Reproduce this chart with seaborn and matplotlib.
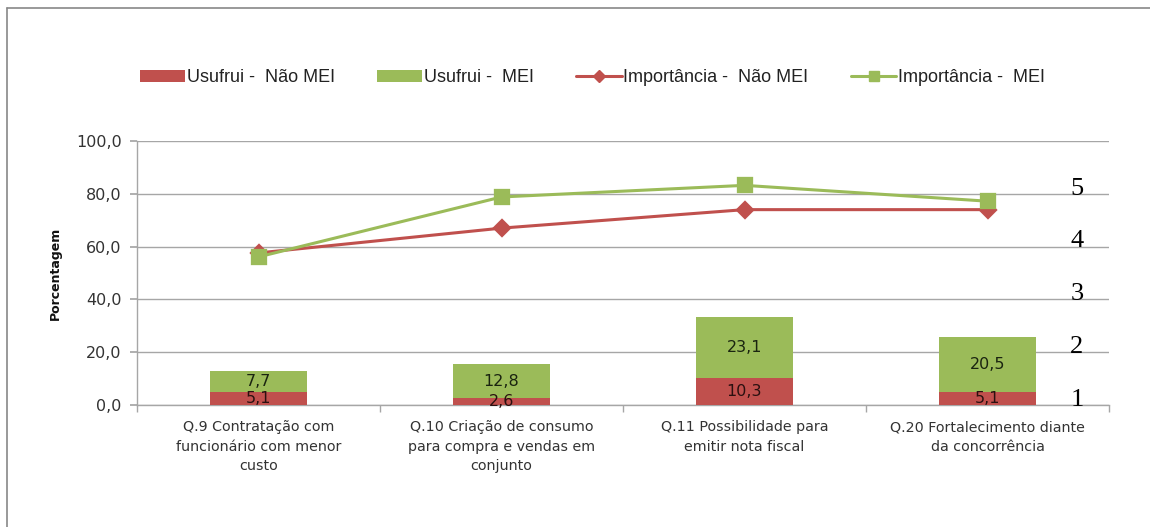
import matplotlib
matplotlib.use("Agg")
import matplotlib.pyplot as plt
import seaborn as sns
import numpy as np
import pandas as pd
from matplotlib.patches import Patch
from matplotlib.lines import Line2D

categories = [
    "Q.9 Contratação com\nfuncionário com menor\ncusto",
    "Q.10 Criação de consumo\npara compra e vendas em\nconjunto",
    "Q.11 Possibilidade para\nemitir nota fiscal",
    "Q.20 Fortalecimento diante\nda concorrência",
]
usufrui_nao_mei = [5.1, 2.6, 10.3, 5.1]
usufrui_mei = [7.7, 12.8, 23.1, 20.5]
importancia_nao_mei = [57.6, 67.0, 74.0, 74.0]
importancia_mei = [56.1, 78.8, 83.2, 77.2]
y_ticks = [0, 20, 40, 60, 80, 100]
scale_labels = ["1", "2", "3", "4", "5"]
scale_positions = [0, 20, 40, 60, 80]

RED = "#C0504D"
GREEN = "#9BBB59"
GRID = "#A6A6A6"

sns.set_theme(style="white")
plt.rcParams["font.family"] = ["DejaVu Sans"]

fig = plt.figure(figsize=(11.5, 5.27), dpi=100)
ax = fig.add_axes([137 / 1150, 1 - 405 / 527, 972 / 1150, 264 / 527])

df = pd.DataFrame({
    "cat": categories,
    "nao": usufrui_nao_mei,
    "mei": usufrui_mei,
})
df["total"] = df["nao"] + df["mei"]

sns.barplot(data=df, x="cat", y="total", color=GREEN, width=0.4,
            saturation=1, linewidth=0, edgecolor="none", ax=ax, zorder=2)
sns.barplot(data=df, x="cat", y="nao", color=RED, width=0.4,
            saturation=1, linewidth=0, edgecolor="none", ax=ax, zorder=3)

for i, (n, m) in enumerate(zip(usufrui_nao_mei, usufrui_mei)):
    ax.text(i, n / 2, f"{n:.1f}".replace(".", ","), ha="center", va="center",
            fontsize=11.5, color="#2a1010", zorder=6)
    ax.text(i, n + m / 2, f"{m:.1f}".replace(".", ","), ha="center", va="center",
            fontsize=11.5, color="#1a2410", zorder=6)

sns.pointplot(x=categories, y=importancia_nao_mei, color=RED, markers="D",
              markersize=8, linewidth=2.2, ax=ax, zorder=4)
sns.pointplot(x=categories, y=importancia_mei, color=GREEN, markers="s",
              markersize=10, linewidth=2.2, ax=ax, zorder=5)

ax.set_xlim(-0.5, len(categories) - 0.5)
ax.set_ylim(0, 100)
ax.set_yticks(y_ticks)
ax.set_yticklabels([f"{v:.1f}".replace(".", ",") for v in y_ticks],
                   fontsize=11.5, color="#333333")
ax.set_xticks(range(len(categories)))
ax.set_xticklabels(categories, fontsize=10.3, color="#333333", linespacing=1.5)
ax.set_xticks(np.arange(-0.5, len(categories), 1.0), minor=True)
ax.tick_params(axis="x", which="major", length=0, pad=11)
ax.tick_params(axis="x", which="minor", length=5, color=GRID, direction="out",
               bottom=True)
ax.tick_params(axis="y", length=5, color=GRID, direction="out", left=True, pad=6)
ax.set_xlabel("")
ax.set_ylabel("Porcentagem", fontsize=9, fontweight="bold", color="#111111",
              labelpad=10)
ax.yaxis.grid(True, color=GRID, linewidth=1, zorder=0)
ax.set_axisbelow(True)
for s in ["top", "right"]:
    ax.spines[s].set_visible(False)
for s in ["left", "bottom"]:
    ax.spines[s].set_color(GRID)
    ax.spines[s].set_linewidth(1)

trans = ax.get_yaxis_transform()
for lab, pos in zip(scale_labels, scale_positions):
    ax.text(0.967, pos + 2.0, lab, transform=trans, ha="center", va="center",
            fontsize=19, family="Liberation Serif", color="black", zorder=7,
            clip_on=False)

handles = [
    Patch(facecolor=RED, edgecolor="none"),
    Patch(facecolor=GREEN, edgecolor="none"),
    Line2D([0], [0], color=RED, lw=2.2, marker="D", markersize=6),
    Line2D([0], [0], color=GREEN, lw=2.2, marker="s", markersize=7),
]
labels = ["Usufrui -  Não MEI", "Usufrui -  MEI", "Importância -  Não MEI",
          "Importância -  MEI"]
leg = fig.legend(handles, labels, loc="center", bbox_to_anchor=(0.515, 0.852),
                 ncol=4, frameon=False, handlelength=2.5, handleheight=0.6,
                 handletextpad=0.1, columnspacing=2.35,
                 prop={"family": "Liberation Sans", "size": 13})
for t in leg.get_texts():
    t.set_color("#222222")

# outer frame lines (top and left)
fig.add_artist(Line2D([7 / 1150, 1.0], [1 - 8 / 527, 1 - 8 / 527],
                      color="#888888", lw=1.2, transform=fig.transFigure))
fig.add_artist(Line2D([7 / 1150, 7 / 1150], [0.0, 1 - 8 / 527],
                      color="#888888", lw=1.2, transform=fig.transFigure))

fig.savefig("out.png", dpi=100, facecolor="white")
